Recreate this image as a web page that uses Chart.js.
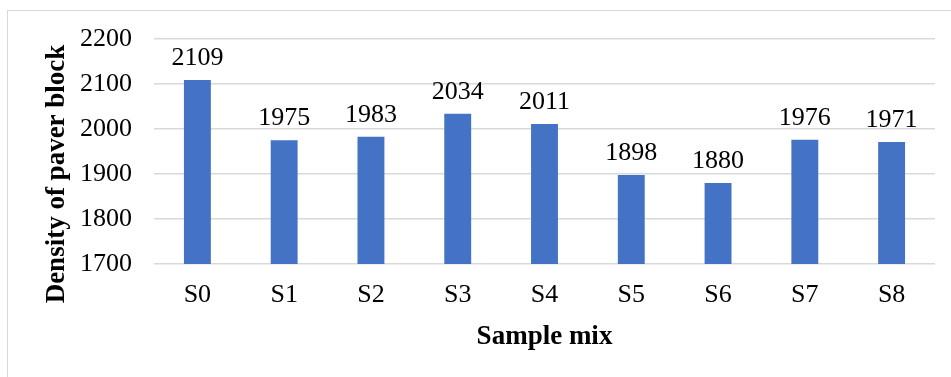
<!DOCTYPE html>
<html>
<head>
<meta charset="utf-8">
<script src="https://cdn.jsdelivr.net/npm/chart.js@4"></script>
<style>
  html, body { margin: 0; padding: 0; background: #fff; }
  #wrap { position: relative; width: 951px; height: 377px; overflow: hidden; }
  #frame { position: absolute; left: 7px; top: 10px; width: 1000px; height: 420px; border: 1.5px solid #d9d9d9; }
  #c { position: absolute; left: 0; top: 0; }
</style>
</head>
<body>
<div id="wrap">
  <div id="frame"></div>
  <canvas id="c" width="951" height="377"></canvas>
</div>
<script>
const samples = ["S0", "S1", "S2", "S3", "S4", "S5", "S6", "S7", "S8"];
const density = [2109, 1975, 1983, 2034, 2011, 1898, 1880, 1976, 1971];
const yTicks = [1700, 1800, 1900, 2000, 2100, 2200];
const yTitle = "Density of paver block";

const serif = "'Liberation Serif', 'Times New Roman', serif";

// value labels above each bar, plus the y title (sits a bit lower than the plot centre)
const barLabels = {
  id: "barLabels",
  afterDatasetsDraw(chart) {
    const ctx = chart.ctx;
    const meta = chart.getDatasetMeta(0);
    ctx.save();
    ctx.font = "26px " + serif;
    ctx.fillStyle = "#000";
    ctx.textAlign = "center";
    ctx.textBaseline = "alphabetic";
    meta.data.forEach((bar, i) => {
      ctx.fillText(String(density[i]), bar.x, bar.y - 15);
    });
    ctx.translate(57, 174);
    ctx.rotate(-Math.PI / 2);
    ctx.font = "bold 27px " + serif;
    ctx.textBaseline = "middle";
    ctx.fillText(yTitle, 0, 0);
    ctx.restore();
  }
};

new Chart(document.getElementById("c"), {
  type: "bar",
  data: {
    labels: samples,
    datasets: [{
      data: density,
      backgroundColor: "#4472C4",
      barPercentage: 0.31,
      categoryPercentage: 1
    }]
  },
  options: {
    responsive: false,
    animation: false,
    layout: { padding: { top: 39, right: 16, left: 0, bottom: 0 } },
    plugins: { legend: { display: false }, tooltip: { enabled: false } },
    scales: {
      x: {
        grid: { display: false, drawTicks: false },
        border: { display: false },
        ticks: { color: "#000", font: { family: serif, size: 26 }, padding: 16 },
        title: {
          display: true, text: "Sample mix", color: "#000",
          font: { family: serif, size: 27, weight: "bold" },
          padding: { top: 0, bottom: 24 }
        },
        afterFit(s) { s.height = 113; }
      },
      y: {
        min: 1700, max: 2200,
        afterBuildTicks(s) { s.ticks = yTicks.map(v => ({ value: v })); },
        grid: { color: "#d9d9d9", lineWidth: 1.5, drawTicks: false },
        border: { display: false },
        ticks: {
          color: "#000", font: { family: serif, size: 26 }, padding: 22,
          callback: v => String(v)
        },
        afterFit(s) { s.width = 154; }
      }
    }
  },
  plugins: [barLabels]
});
</script>
</body>
</html>
